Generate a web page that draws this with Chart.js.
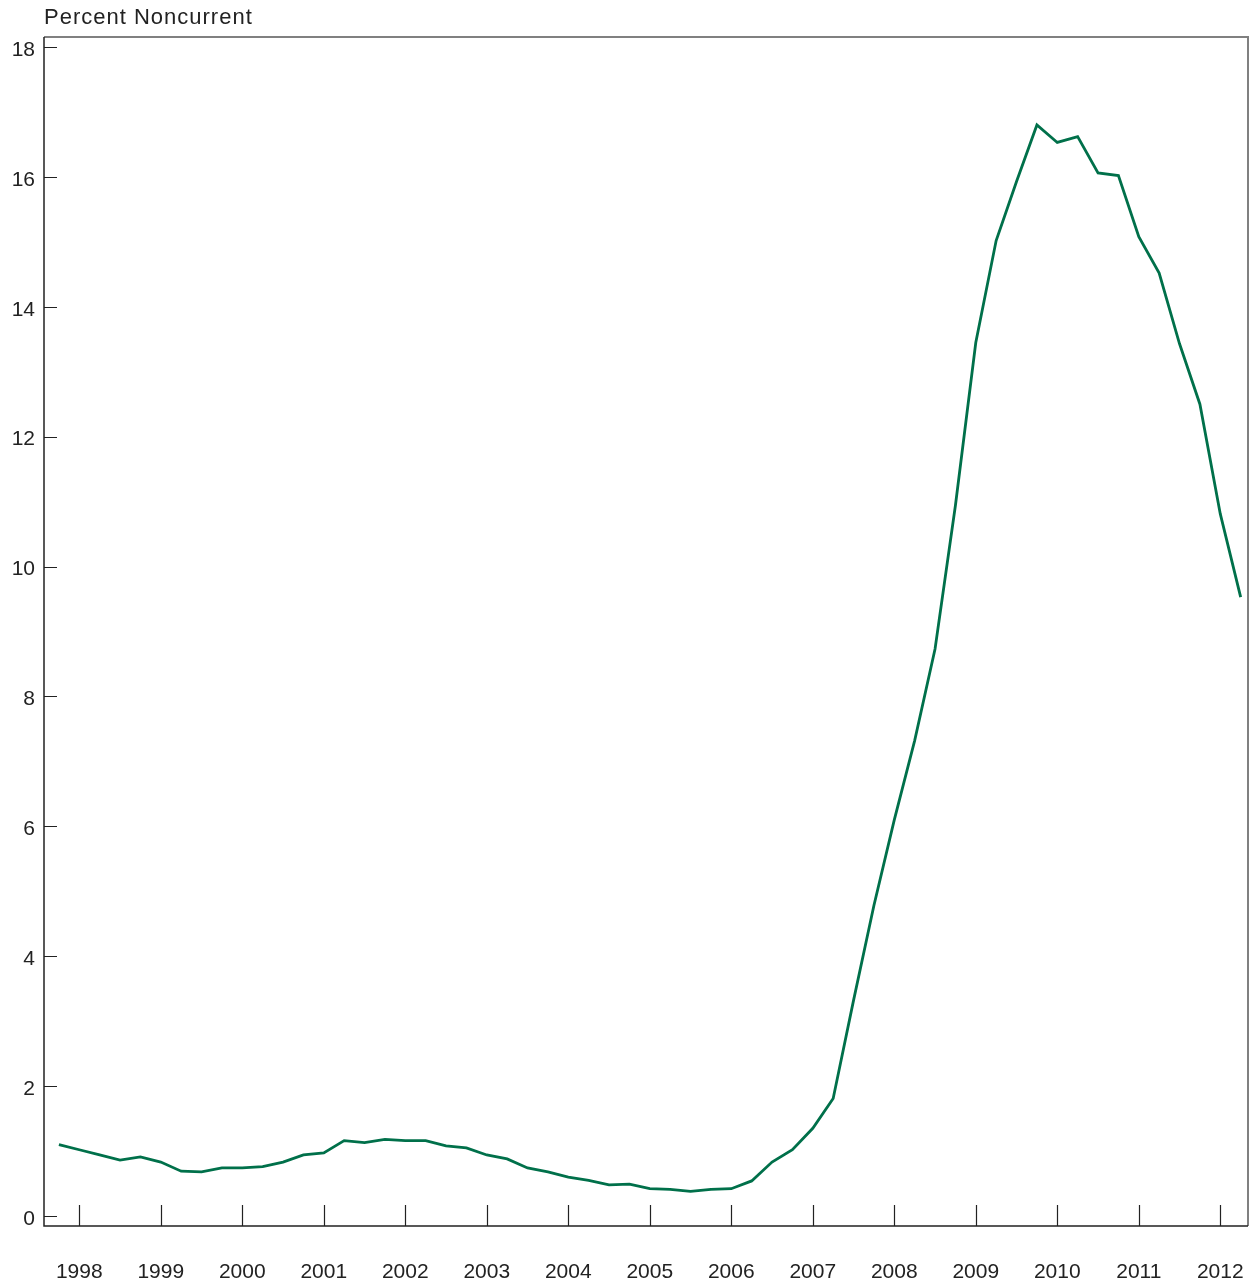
<!DOCTYPE html>
<html>
<head>
<meta charset="utf-8">
<script src="https://cdn.jsdelivr.net/npm/chart.js@4"></script>
<style>
html,body{margin:0;padding:0;background:#fff;overflow:hidden;}
#c{display:block;}
</style>
</head>
<body>
<canvas id="c" width="1257" height="1286"></canvas>
<script>
const quarters = ["1997Q4",
"1998Q1","1998Q2","1998Q3","1998Q4",
"1999Q1","1999Q2","1999Q3","1999Q4",
"2000Q1","2000Q2","2000Q3","2000Q4",
"2001Q1","2001Q2","2001Q3","2001Q4",
"2002Q1","2002Q2","2002Q3","2002Q4",
"2003Q1","2003Q2","2003Q3","2003Q4",
"2004Q1","2004Q2","2004Q3","2004Q4",
"2005Q1","2005Q2","2005Q3","2005Q4",
"2006Q1","2006Q2","2006Q3","2006Q4",
"2007Q1","2007Q2","2007Q3","2007Q4",
"2008Q1","2008Q2","2008Q3","2008Q4",
"2009Q1","2009Q2","2009Q3","2009Q4",
"2010Q1","2010Q2","2010Q3","2010Q4",
"2011Q1","2011Q2","2011Q3","2011Q4",
"2012Q1","2012Q2"];

const percentNoncurrent = [1.10,
1.02,0.94,0.86,0.91,
0.83,0.69,0.68,0.74,
0.74,0.76,0.83,0.94,
0.97,1.16,1.13,1.18,
1.16,1.16,1.08,1.05,
0.94,0.88,0.74,0.68,
0.60,0.55,0.48,0.49,
0.42,0.41,0.38,0.41,
0.42,0.54,0.83,1.02,
1.35,1.81,3.32,4.78,
6.10,7.32,8.73,10.94,
13.45,15.02,15.93,16.80,
16.53,16.62,16.06,16.02,
15.08,14.52,13.43,12.50,
10.81,9.53];

const yearTicks = [1998,1999,2000,2001,2002,2003,2004,2005,2006,2007,2008,2009,2010,2011,2012];
const yTicks = [0,2,4,6,8,10,12,14,16,18];
const yAxisTitle = "Percent Noncurrent";

const FONT = "'Liberation Sans', Arial, sans-serif";
const TXT = '#222222';

function quarterToX(q){
  const y = parseInt(q.slice(0,4),10);
  const n = parseInt(q.slice(5),10);
  return y + (n-1)/4;
}

const points = quarters.map((q,i)=>({x: quarterToX(q), y: percentNoncurrent[i]}));

const framePlugin = {
  id: 'frame',
  afterDraw(chart){
    const ctx = chart.ctx;
    const a = chart.chartArea;
    const xs = chart.scales.x, ys = chart.scales.y;
    ctx.save();
    ctx.strokeStyle = '#808080';
    ctx.lineWidth = 2;
    ctx.beginPath();
    ctx.moveTo(a.left, a.top); ctx.lineTo(a.right, a.top); ctx.lineTo(a.right, a.bottom);
    ctx.stroke();
    ctx.strokeStyle = '#222222';
    ctx.lineWidth = 1.5;
    ctx.beginPath();
    ctx.moveTo(a.left, a.top); ctx.lineTo(a.left, a.bottom); ctx.lineTo(a.right, a.bottom);
    ctx.stroke();
    ctx.lineWidth = 1.2;
    ctx.beginPath();
    yearTicks.forEach(v=>{
      const px = Math.round(xs.getPixelForValue(v)) + 0.5;
      ctx.moveTo(px, a.bottom); ctx.lineTo(px, a.bottom - 21);
    });
    yTicks.forEach(v=>{
      const py = Math.round(ys.getPixelForValue(v)) + 0.5;
      ctx.moveTo(a.left, py); ctx.lineTo(a.left + 13, py);
    });
    ctx.stroke();
    ctx.fillStyle = TXT;
    ctx.font = '22px ' + FONT;
    try { ctx.letterSpacing = '1px'; } catch(e) {}
    ctx.textBaseline = 'middle';
    ctx.textAlign = 'left';
    ctx.fillText(yAxisTitle, 44, 18);
    ctx.restore();
  }
};

new Chart(document.getElementById('c'), {
  type: 'line',
  data: {
    datasets: [{
      data: points,
      borderColor: '#00704a',
      borderWidth: 2.8,
      pointRadius: 0,
      tension: 0,
      fill: false
    }]
  },
  options: {
    responsive: false,
    animation: false,
    devicePixelRatio: 1,
    layout: { padding: { top: 37, right: 9, left: 0, bottom: 0 } },
    plugins: { legend: { display: false }, tooltip: { enabled: false }, title: { display: false } },
    scales: {
      x: {
        type: 'linear',
        min: 1997.567,
        max: 2012.34,
        afterBuildTicks(s){ s.ticks = yearTicks.map(v=>({value:v})); },
        afterFit(s){ s.height = 60; s.paddingLeft = 0; s.paddingRight = 0; },
        grid: { display: false, drawTicks: false },
        border: { display: false },
        ticks: {
          padding: 34,
          autoSkip: false,
          maxRotation: 0,
          color: TXT,
          font: { size: 21, family: FONT },
          callback: v => String(v)
        }
      },
      y: {
        type: 'linear',
        min: -0.154,
        max: 18.154,
        afterBuildTicks(s){ s.ticks = yTicks.map(v=>({value:v})); },
        afterFit(s){ s.width = 44; s.paddingTop = 0; s.paddingBottom = 0; },
        grid: { display: false, drawTicks: false },
        border: { display: false },
        ticks: {
          padding: 9,
          labelOffset: 3,
          color: TXT,
          font: { size: 21, family: FONT },
          callback: v => String(v)
        }
      }
    }
  },
  plugins: [framePlugin]
});
</script>
</body>
</html>
